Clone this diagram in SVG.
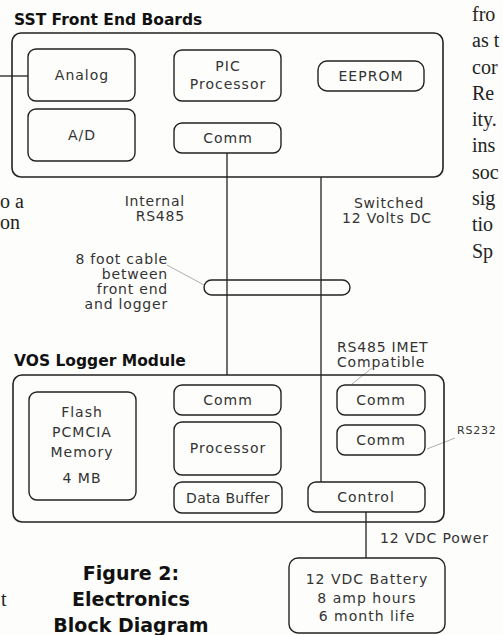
<svg xmlns="http://www.w3.org/2000/svg" width="503" height="635" viewBox="0 0 503 635">
<style>
.bg{fill:#fdfdfb}
.outer{fill:none;stroke:#222;stroke-width:1.6}
.box{fill:none;stroke:#222;stroke-width:1.4}
.lbl{font-family:"DejaVu Sans",sans-serif;font-size:14px;letter-spacing:1px;fill:#333;text-anchor:middle}
.note{font-family:"DejaVu Sans",sans-serif;font-size:14px;letter-spacing:0.8px;fill:#333}
.title{font-family:"DejaVu Sans",sans-serif;font-weight:bold;font-size:15.5px;fill:#111}
.cap{font-family:"DejaVu Sans",sans-serif;font-weight:bold;font-size:19px;fill:#111;text-anchor:middle}
.serif{font-family:"Liberation Serif",serif;font-size:20px;fill:#222}
.wire{fill:none;stroke:#222;stroke-width:1.3}
.lead{fill:none;stroke:#999;stroke-width:0.8}
</style>
<rect class="bg" x="0" y="0" width="503" height="635"/>

<g id="page-text">
<text class="serif" x="472" y="21">fro</text>
<text class="serif" x="472" y="47">as t</text>
<text class="serif" x="472" y="74">cor</text>
<text class="serif" x="472" y="100">Re</text>
<text class="serif" x="472" y="126">ity.</text>
<text class="serif" x="472" y="152">ins</text>
<text class="serif" x="472" y="179">soc</text>
<text class="serif" x="472" y="205">sig</text>
<text class="serif" x="472" y="231">tio</text>
<text class="serif" x="472" y="258">Sp</text>
<text class="serif" x="0" y="208">o a</text>
<text class="serif" x="0" y="229">on</text>
<text class="serif" x="1" y="606">t</text>
</g>

<g id="connectors">
<line class="wire" x1="0" y1="76" x2="28" y2="76"/>
<line class="wire" x1="227" y1="153" x2="227" y2="375"/>
<line class="wire" x1="321" y1="177" x2="321" y2="482"/>
<line class="wire" x1="366" y1="512" x2="366" y2="558"/>
<line class="lead" x1="167" y1="265" x2="204" y2="285"/>
<line class="lead" x1="427" y1="449" x2="455" y2="438"/>
<line class="lead" x1="372" y1="368" x2="352" y2="384"/>
</g>

<g id="cable">
<rect class="box" x="204" y="280" width="146" height="15" rx="7.5"/>
</g>

<g id="sst-front-end">
<text class="title" x="14" y="25">SST Front End Boards</text>
<rect class="outer" x="12" y="33" width="431" height="144" rx="9"/>
</g>
<g id="analog"><rect class="box" x="28" y="49" width="107" height="52" rx="8"/><text class="lbl" x="82" y="80">Analog</text></g>
<g id="ad"><rect class="box" x="28" y="109" width="107" height="52" rx="8"/><text class="lbl" x="82" y="140">A/D</text></g>
<g id="pic"><rect class="box" x="174" y="50" width="107" height="51" rx="8"/><text class="lbl" x="228" y="71">PIC</text><text class="lbl" x="228" y="89">Processor</text></g>
<g id="comm-fe"><rect class="box" x="174" y="123" width="107" height="30" rx="8"/><text class="lbl" x="228" y="143">Comm</text></g>
<g id="eeprom"><rect class="box" x="318" y="61" width="106" height="30" rx="9"/><text class="lbl" x="371" y="81">EEPROM</text></g>

<g id="labels">
<text class="note" x="185" y="206" text-anchor="end">Internal</text>
<text class="note" x="185" y="221" text-anchor="end">RS485</text>
<text class="note" x="389" y="208" text-anchor="middle">Switched</text>
<text class="note" x="387" y="223" text-anchor="middle">12 Volts DC</text>
<text class="note" x="168" y="264" text-anchor="end">8 foot cable</text>
<text class="note" x="168" y="279" text-anchor="end">between</text>
<text class="note" x="168" y="294" text-anchor="end">front end</text>
<text class="note" x="168" y="309" text-anchor="end">and logger</text>
<text class="note" x="337" y="352">RS485 IMET</text>
<text class="note" x="337" y="367">Compatible</text>
<text class="note" x="457" y="434" style="font-size:11px">RS232</text>
<text class="note" x="380" y="543">12 VDC Power</text>
</g>

<g id="vos-logger">
<text class="title" x="14" y="366">VOS Logger Module</text>
<rect class="outer" x="13" y="375" width="431" height="147" rx="9"/>
</g>
<g id="flash"><rect class="box" x="29" y="392" width="107" height="108" rx="8"/>
<text class="lbl" x="82" y="417">Flash</text><text class="lbl" x="82" y="437">PCMCIA</text><text class="lbl" x="82" y="457">Memory</text><text class="lbl" x="82" y="483">4 MB</text></g>
<g id="comm-vos"><rect class="box" x="174" y="385" width="107" height="30" rx="8"/><text class="lbl" x="228" y="405">Comm</text></g>
<g id="processor"><rect class="box" x="174" y="422" width="107" height="53" rx="8"/><text class="lbl" x="228" y="453">Processor</text></g>
<g id="data-buffer"><rect class="box" x="174" y="482" width="108" height="31" rx="8"/><text class="lbl" x="228" y="503" style="letter-spacing:0.3px">Data Buffer</text></g>
<g id="comm-1"><rect class="box" x="337" y="385" width="88" height="30" rx="8"/><text class="lbl" x="381" y="405">Comm</text></g>
<g id="comm-2"><rect class="box" x="337" y="425" width="88" height="30" rx="8"/><text class="lbl" x="381" y="445">Comm</text></g>
<g id="control"><rect class="box" x="308" y="482" width="117" height="30" rx="8"/><text class="lbl" x="366" y="502">Control</text></g>

<g id="battery"><rect class="box" x="289" y="558" width="156" height="75" rx="9"/>
<text class="lbl" x="367" y="584">12 VDC Battery</text><text class="lbl" x="367" y="603">8 amp hours</text><text class="lbl" x="367" y="621">6 month life</text></g>

<g id="caption">
<text class="cap" x="131" y="580">Figure 2:</text>
<text class="cap" x="131" y="606">Electronics</text>
<text class="cap" x="131" y="632">Block Diagram</text>
</g>
</svg>
